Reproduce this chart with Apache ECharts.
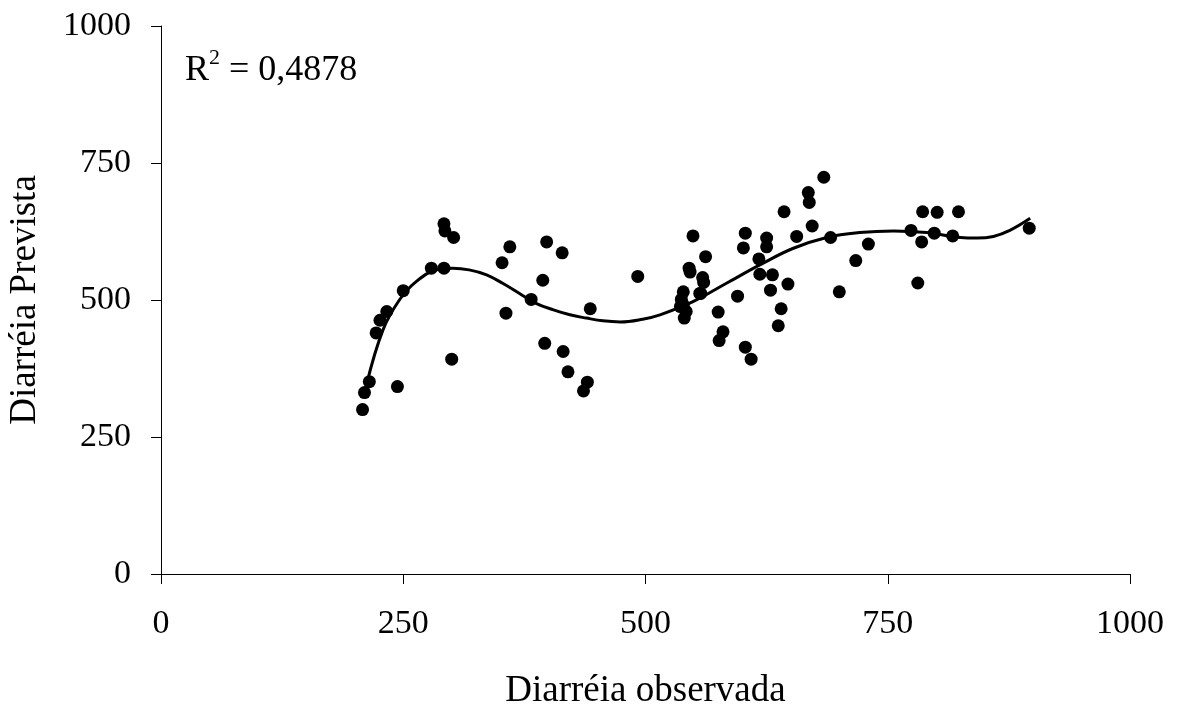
<!DOCTYPE html>
<html><head><meta charset="utf-8">
<script src="https://cdn.jsdelivr.net/npm/echarts@6/dist/echarts.min.js"></script>
<style>html,body{margin:0;padding:0;background:#fff}#c{width:1177px;height:707px}</style>
</head><body><div id="c"></div>
<script>
var xTicks = [0, 250, 500, 750, 1000];
var yTicks = [0, 250, 500, 750, 1000];
var obsX = [208,210,215,222,226,233,244,250,279,292,300,292,293,302,360,352,356,382,398,414,394,396,415,420,440,436,443,492,
  549,562,545,546,559,560,557,539,537,539,536,542,540,556,575,580,576,595,603,601,603,609,617,618,625,625,631,629,647,640,637,643,656,668,669,672,684,691,700,717,
  730,774,786,801,823,798,785,817,781,896];
var prevY = [300,331,351,440,463,479,342,517,558,558,392,639,626,614,597,568,476,501,606,586,536,421,406,369,350,334,484,543,
  617,579,558,551,541,532,512,515,501,491,488,479,467,512,478,442,426,507,622,595,414,392,575,547,613,597,546,518,529,484,453,661,616,696,678,635,724,614,515,572,
  602,627,661,660,661,622,606,617,531,631];
var trendX = [212,229,246,263,284,301,318,336,353,370,387,405,422,439,456,474,497,515,549,584,618,652,687,721,756,790,825,842,859,876,897];
var trendY = [345,445,500,533,555,558,555,546,530,512,494,482,473,467,462,460,465,473,497,531,564,594,614,623,626,623,614,613,616,627,649];

var scatterData = obsX.map(function(x,i){return [x, prevY[i]];});
var trendData = trendX.map(function(x,i){return [x, trendY[i]];});
var font = '"Liberation Serif","Times New Roman",serif';
var chart = echarts.init(document.getElementById('c'));
chart.setOption({
  animation:false,
  backgroundColor:'#fff',
  grid:{left:161,right:47,top:26,bottom:133,containLabel:false,outerBoundsMode:'none'},
  xAxis:{type:'value',min:xTicks[0],max:xTicks[xTicks.length-1],interval:250,
    name:'Diarréia observada',nameLocation:'middle',nameGap:99,
    nameTextStyle:{fontFamily:font,fontSize:37,color:'#000'},
    axisLine:{show:true,lineStyle:{color:'#000',width:1}},
    axisTick:{show:true,length:10,lineStyle:{color:'#000'}},
    axisLabel:{fontFamily:font,fontSize:34,color:'#000',margin:33,formatter:function(v){return String(v);}},
    splitLine:{show:false}},
  yAxis:{type:'value',min:yTicks[0],max:yTicks[yTicks.length-1],interval:250,
    name:'Diarréia Prevista',nameLocation:'middle',nameGap:117,
    nameTextStyle:{fontFamily:font,fontSize:37,color:'#000'},
    axisLine:{show:true,lineStyle:{color:'#000',width:1}},
    axisTick:{show:true,length:10,lineStyle:{color:'#000'}},
    axisLabel:{fontFamily:font,fontSize:34,color:'#000',margin:30,formatter:function(v){return String(v);}},
    splitLine:{show:false}},
  graphic:[{type:'text',left:185,top:47,style:{
    text:'{a|R}{s|2}{a| = 0,4878}',
    rich:{a:{fontFamily:font,fontSize:36,fill:'#000',verticalAlign:'bottom'},
          s:{fontFamily:font,fontSize:22,fill:'#000',verticalAlign:'top',padding:[0,0,20,0]}}
  }}],
  series:[
    {type:'scatter',data:scatterData,symbol:'circle',symbolSize:13,itemStyle:{color:'#000',opacity:1},z:3},
    {type:'line',data:trendData,smooth:0.4,showSymbol:false,symbol:'none',lineStyle:{color:'#000',width:3},z:2}
  ]
});
</script></body></html>
